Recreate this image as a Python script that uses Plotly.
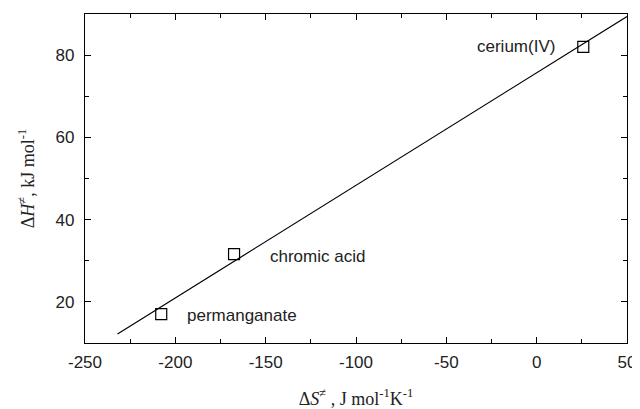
import plotly.graph_objects as go

# Data
labels = ["permanganate", "chromic acid", "cerium(IV)"]
dS = [-207.8, -167.5, 25.8]
dH = [17.0, 31.6, 82.0]
fit_x = [-232, 50]
fit_y = [12.2, 89.4]
x_ticks = [-250, -200, -150, -100, -50, 0, 50]
y_ticks = [20, 40, 60, 80]

fig = go.Figure()
fig.add_trace(go.Scatter(x=fit_x, y=fit_y, mode="lines",
                         line=dict(color="black", width=1.2), showlegend=False))
fig.add_trace(go.Scatter(x=dS, y=dH, mode="markers",
                         marker=dict(symbol="square-open", size=11, color="black",
                                     line=dict(width=1.2)), showlegend=False))

# text labels
offsets = {"permanganate": (24, -1, "left"), "chromic acid": (34, -2, "left"), "cerium(IV)": (-26, 0, "right")}
for lab, x, y in zip(labels, dS, dH):
    dx, dy, anc = offsets[lab]
    fig.add_annotation(x=x, y=y, text=lab, showarrow=False, xshift=dx, yshift=dy,
                       xanchor=anc, yanchor="middle",
                       font=dict(family="Liberation Sans, Arial", size=17, color="#222"))

axis_common = dict(showline=True, linecolor="black", linewidth=1.2, mirror="ticks",
                   ticks="inside", ticklen=6, tickwidth=1, tickcolor="black",
                   showgrid=False, zeroline=False, automargin=False,
                   tickfont=dict(family="Liberation Sans, Arial", size=17, color="#222"))

fig.update_xaxes(range=[-250, 50], tickvals=x_ticks, ticktext=[str(v) for v in x_ticks],
                 ticklabelstandoff=3,
                 minor=dict(dtick=25, tick0=-250, ticks="inside", ticklen=4, tickcolor="black", showgrid=False),
                 title=dict(text="Δ<i>S</i><sup>≠</sup> , J mol<sup>-1</sup>K<sup>-1</sup>",
                            font=dict(family="Liberation Serif, Times New Roman", size=18, color="#222"),
                            standoff=24),
                 **axis_common)
fig.update_yaxes(range=[10, 90], tickvals=y_ticks, ticktext=[str(v) for v in y_ticks],
                 ticklabelstandoff=6,
                 minor=dict(dtick=10, tick0=0, ticks="inside", ticklen=4, tickcolor="black", showgrid=False),
                 title=dict(text="Δ<i>H</i><sup>≠</sup>, kJ mol<sup>-1</sup>",
                            font=dict(family="Liberation Serif, Times New Roman", size=18, color="#222"),
                            standoff=16),
                 **axis_common)

# page body has an 8px margin, so the figure is shrunk and shifted accordingly
fig.update_layout(width=632, height=401, margin=dict(l=77, r=13, t=6, b=66),
                  plot_bgcolor="white", paper_bgcolor="white")
fig.write_html("out.html")
